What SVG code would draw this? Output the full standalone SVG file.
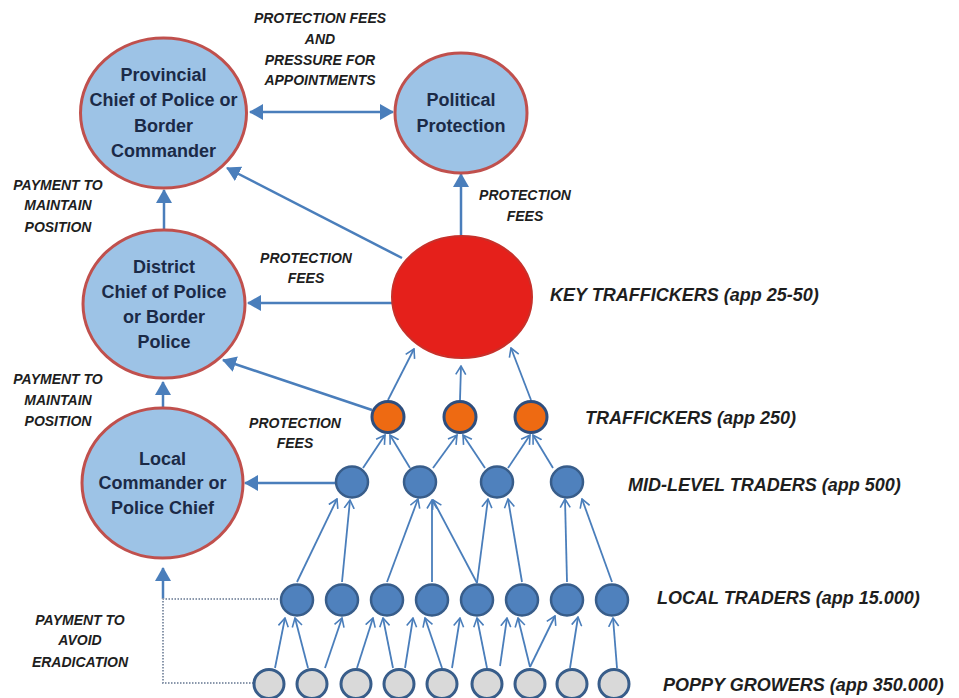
<svg xmlns="http://www.w3.org/2000/svg" width="959" height="698" viewBox="0 0 959 698">
<style>
.big{fill:#9DC3E6;stroke:#C0504D;stroke-width:3}
.key{fill:#E5201B;stroke:#C8302A;stroke-width:2}
.orn{fill:#EE6A12;stroke:#2E4E7E;stroke-width:3}
.mid{fill:#4F81BD;stroke:#385D8A;stroke-width:2.5}
.grw{fill:#D9D9D9;stroke:#385D8A;stroke-width:3}
.nt{font-family:"Liberation Sans",Arial,sans-serif;font-weight:bold;font-size:18px;fill:#1B2A47;text-anchor:middle}
.lb{font-family:"Liberation Sans",Arial,sans-serif;font-weight:bold;font-style:italic;font-size:14px;fill:#1E1E1E;text-anchor:middle}
.rl{font-family:"Liberation Sans",Arial,sans-serif;font-weight:bold;font-style:italic;font-size:18px;fill:#1E1E1E}
.ca{stroke:#4A7EBB;stroke-width:2.5;fill:none;marker-end:url(#tri)}
.fa{stroke:#4A7EBB;stroke-width:1.8;fill:none;marker-end:url(#vee)}
</style>
<defs>
<marker id="tri" viewBox="0 0 14 16" refX="13" refY="8" markerWidth="14" markerHeight="16" markerUnits="userSpaceOnUse" orient="auto-start-reverse"><path d="M0,0 L14,8 L0,16 z" fill="#4A7EBB"/></marker>
<marker id="vee" viewBox="0 0 10 12" refX="9" refY="6" markerWidth="10" markerHeight="12" markerUnits="userSpaceOnUse" orient="auto"><path d="M0.5,1 L9,6 L0.5,11" fill="none" stroke="#4A7EBB" stroke-width="1.6"/></marker>
</defs>
<rect width="959" height="698" fill="#FFFFFF"/>

<g id="connectors">
<line class="ca" x1="250" y1="112" x2="393" y2="112" style="marker-start:url(#tri)"/>
<line class="ca" x1="164" y1="230" x2="164" y2="190"/>
<line class="ca" x1="402" y1="258" x2="227" y2="168"/>
<line class="ca" x1="461" y1="237" x2="461" y2="174"/>
<line class="ca" x1="392" y1="303" x2="248" y2="303"/>
<line class="ca" x1="372" y1="410" x2="223" y2="360"/>
<line class="ca" x1="163" y1="408" x2="163" y2="382"/>
<line class="ca" x1="335" y1="483" x2="245" y2="483"/>
<line class="ca" x1="163" y1="599" x2="163" y2="568"/>
<polyline points="278,599 163,599 163,683 253,683" fill="none" stroke="#8A97AB" stroke-width="2" stroke-dasharray="1.5 1.5"/>
<line class="fa" x1="388" y1="400" x2="414" y2="349"/>
<line class="fa" x1="460" y1="400" x2="461" y2="366"/>
<line class="fa" x1="531" y1="400" x2="511" y2="348"/>
<line class="fa" x1="363" y1="468" x2="385" y2="435"/>
<line class="fa" x1="410" y1="468" x2="390" y2="435"/>
<line class="fa" x1="433" y1="468" x2="457" y2="435"/>
<line class="fa" x1="485" y1="468" x2="463" y2="435"/>
<line class="fa" x1="508" y1="468" x2="530" y2="435"/>
<line class="fa" x1="553" y1="468" x2="533" y2="435"/>
<line class="fa" x1="297" y1="582" x2="337" y2="499"/>
<line class="fa" x1="342" y1="582" x2="350" y2="500"/>
<line class="fa" x1="387" y1="582" x2="418" y2="499"/>
<line class="fa" x1="432" y1="582" x2="432" y2="500"/>
<line class="fa" x1="477" y1="583" x2="433" y2="500"/>
<line class="fa" x1="477" y1="583" x2="488" y2="499"/>
<line class="fa" x1="522" y1="582" x2="508" y2="499"/>
<line class="fa" x1="567" y1="582" x2="565" y2="499"/>
<line class="fa" x1="612" y1="582" x2="582" y2="499"/>
<line class="fa" x1="275" y1="668" x2="285" y2="618"/>
<line class="fa" x1="308" y1="668" x2="295" y2="618"/>
<line class="fa" x1="325" y1="668" x2="342" y2="618"/>
<line class="fa" x1="357" y1="668" x2="373" y2="618"/>
<line class="fa" x1="393" y1="668" x2="383" y2="618"/>
<line class="fa" x1="405" y1="668" x2="413" y2="618"/>
<line class="fa" x1="442" y1="668" x2="425" y2="618"/>
<line class="fa" x1="452" y1="668" x2="460" y2="618"/>
<line class="fa" x1="487" y1="668" x2="477" y2="618"/>
<line class="fa" x1="500" y1="666" x2="507" y2="618"/>
<line class="fa" x1="530" y1="667" x2="518" y2="618"/>
<line class="fa" x1="530" y1="667" x2="555" y2="616"/>
<line class="fa" x1="570" y1="668" x2="578" y2="617"/>
<line class="fa" x1="617" y1="668" x2="613" y2="618"/>
</g>

<g id="provincial">
<ellipse class="big" cx="163.5" cy="113" rx="83" ry="75"/>
<text class="nt" x="163.5" y="81">Provincial</text>
<text class="nt" x="163.5" y="106">Chief of Police or</text>
<text class="nt" x="163.5" y="132">Border</text>
<text class="nt" x="163.5" y="157">Commander</text>
</g>
<g id="political">
<ellipse class="big" cx="461" cy="113" rx="66" ry="60"/>
<text class="nt" x="461" y="106">Political</text>
<text class="nt" x="461" y="132">Protection</text>
</g>
<g id="district">
<ellipse class="big" cx="164" cy="304" rx="81" ry="74"/>
<text class="nt" x="164" y="273">District</text>
<text class="nt" x="164" y="298">Chief of Police</text>
<text class="nt" x="164" y="323">or Border</text>
<text class="nt" x="164" y="348">Police</text>
</g>
<g id="local-commander">
<ellipse class="big" cx="162.5" cy="483" rx="80.5" ry="75"/>
<text class="nt" x="162.5" y="465">Local</text>
<text class="nt" x="162.5" y="489">Commander or</text>
<text class="nt" x="162.5" y="514">Police Chief</text>
</g>
<g id="key-traffickers">
<ellipse class="key" cx="462" cy="297" rx="70" ry="61"/>
</g>
<g id="traffickers">
<ellipse class="orn" cx="388" cy="417" rx="16" ry="15.5"/>
<ellipse class="orn" cx="460" cy="417" rx="16" ry="15.5"/>
<ellipse class="orn" cx="531" cy="417" rx="16" ry="15.5"/>
</g>
<g id="mid-level-traders">
<ellipse class="mid" cx="352" cy="482" rx="16" ry="15.5"/>
<ellipse class="mid" cx="420" cy="482" rx="16" ry="15.5"/>
<ellipse class="mid" cx="497" cy="482" rx="16" ry="15.5"/>
<ellipse class="mid" cx="567" cy="482" rx="16" ry="15.5"/>
</g>
<g id="local-traders">
<ellipse class="mid" cx="297" cy="600" rx="16" ry="15.5"/>
<ellipse class="mid" cx="342" cy="600" rx="16" ry="15.5"/>
<ellipse class="mid" cx="387" cy="600" rx="16" ry="15.5"/>
<ellipse class="mid" cx="432" cy="600" rx="16" ry="15.5"/>
<ellipse class="mid" cx="477" cy="600" rx="16" ry="15.5"/>
<ellipse class="mid" cx="522" cy="600" rx="16" ry="15.5"/>
<ellipse class="mid" cx="567" cy="600" rx="16" ry="15.5"/>
<ellipse class="mid" cx="612" cy="600" rx="16" ry="15.5"/>
</g>
<g id="poppy-growers">
<ellipse class="grw" cx="269" cy="684" rx="15" ry="14.5"/>
<ellipse class="grw" cx="312" cy="684" rx="15" ry="14.5"/>
<ellipse class="grw" cx="356" cy="684" rx="15" ry="14.5"/>
<ellipse class="grw" cx="399" cy="684" rx="15" ry="14.5"/>
<ellipse class="grw" cx="442" cy="684" rx="15" ry="14.5"/>
<ellipse class="grw" cx="487" cy="684" rx="15" ry="14.5"/>
<ellipse class="grw" cx="530" cy="684" rx="15" ry="14.5"/>
<ellipse class="grw" cx="572" cy="684" rx="15" ry="14.5"/>
<ellipse class="grw" cx="614" cy="684" rx="15" ry="14.5"/>
</g>

<g id="labels">
<text class="lb" x="320" y="23">PROTECTION FEES</text>
<text class="lb" x="320" y="44">AND</text>
<text class="lb" x="320" y="65">PRESSURE FOR</text>
<text class="lb" x="320" y="85">APPOINTMENTS</text>
<text class="lb" x="58" y="190">PAYMENT TO</text>
<text class="lb" x="58" y="210">MAINTAIN</text>
<text class="lb" x="58" y="232">POSITION</text>
<text class="lb" x="525" y="200">PROTECTION</text>
<text class="lb" x="525" y="221">FEES</text>
<text class="lb" x="306" y="263">PROTECTION</text>
<text class="lb" x="306" y="283">FEES</text>
<text class="lb" x="58" y="384">PAYMENT TO</text>
<text class="lb" x="58" y="405">MAINTAIN</text>
<text class="lb" x="58" y="426">POSITION</text>
<text class="lb" x="295" y="428">PROTECTION</text>
<text class="lb" x="295" y="448">FEES</text>
<text class="lb" x="80" y="625">PAYMENT TO</text>
<text class="lb" x="80" y="645">AVOID</text>
<text class="lb" x="80" y="667">ERADICATION</text>
<text class="rl" x="550" y="301">KEY TRAFFICKERS (app 25-50)</text>
<text class="rl" x="585" y="424">TRAFFICKERS (app 250)</text>
<text class="rl" x="628" y="491">MID-LEVEL TRADERS (app 500)</text>
<text class="rl" x="657" y="604">LOCAL TRADERS (app 15.000)</text>
<text class="rl" x="663" y="691">POPPY GROWERS (app 350.000)</text>
</g>
</svg>
